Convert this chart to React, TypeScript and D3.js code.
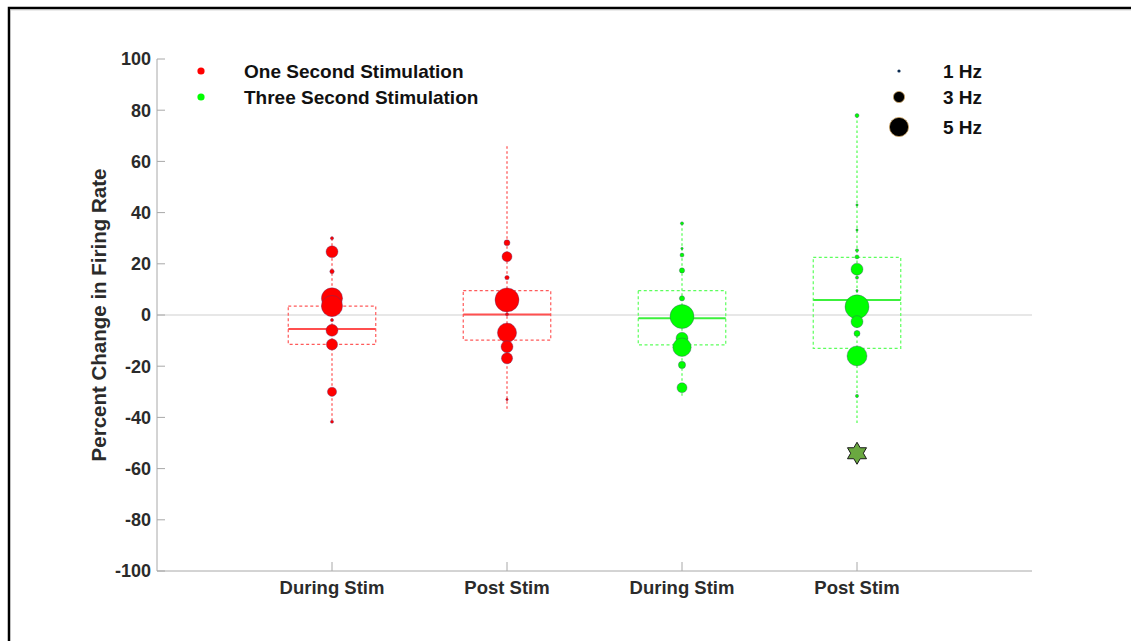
import React from "react";
import * as d3 from "d3";

// ---------- data ----------
const categories = ["During Stim", "Post Stim", "During Stim", "Post Stim"];
const groupSeries = [0, 0, 1, 1]; // index into seriesNames
const seriesNames = ["One Second Stimulation", "Three Second Stimulation"];
const yTicks = [100, 80, 60, 40, 20, 0, -20, -40, -60, -80, -100];

const boxQ1 = [-11.5, -9.8, -11.7, -13];
const boxQ3 = [3.5, 9.5, 9.5, 22.5];
const medians = [-5.5, 0.2, -1.3, 5.9];
const whiskerLow = [-41.7, -37.5, -32.5, -43];
const whiskerHigh = [30, 65.9, 35.8, 77.9];

const g1Values = [30, 24.7, 17, 6.5, 3.5, -2, -6, -11.5, -30, -41.7];
const g1Hz = [1, 3.2, 1.3, 5.5, 5.5, 1, 3.2, 3, 2.5, 1];
const g2Values = [28.2, 22.8, 14.6, 5.9, 0.3, -6.9, -12.4, -16.9, -33];
const g2Hz = [1.7, 2.7, 1.3, 6.2, 1, 5, 3.2, 3, 0.8];
const g3Values = [35.8, 26, 23.4, 17.4, 6.5, -0.6, -9.1, -12.6, -19.5, -28.4];
const g3Hz = [1, 0.8, 1.2, 1.5, 1.5, 6.2, 3.2, 4.8, 2, 2.7];
const g4Values = [77.9, 43, 33.2, 25.3, 22.7, 17.9, 14.6, 9.5, 3.2, -2.6, -7.2, -16, -31.6];
const g4Hz = [1.2, 0.6, 0.6, 1, 1.2, 3.2, 1, 0.6, 6.2, 3.2, 1.7, 5.2, 1];
const groupValues = [g1Values, g2Values, g3Values, g4Values];
const groupHz = [g1Hz, g2Hz, g3Hz, g4Hz];

const outlierGroup = 3;
const outlierValue = -54;

const sizeLegendHz = [1, 3, 5];
const sizeLegendLabels = ["1 Hz", "3 Hz", "5 Hz"];

// ---------- styles ----------
const W = 1131;
const H = 641;
const FONT = "'Liberation Sans', Arial, sans-serif";
const pointFill = ["#ff0000", "#00ff00"];
const boxStroke = ["#ff5a5a", "#5cff5c"];
const medianStroke = ["#ff4f4f", "#3cf03c"];

export default function App() {
  const x = d3.scaleLinear().domain([0, 5]).range([157, 1032]);
  const y = d3.scaleLinear().domain([-100, 100]).range([571, 59]);
  const r = d3.scaleLinear().domain([1, 5]).range([1.6, 9.6]).clamp(false);
  const halfBox = x(0.25) - x(0);

  const star = (cx: number, cy: number, R: number) => {
    const ri = R / Math.sqrt(3);
    const pts: [number, number][] = d3.range(12).map((i) => {
      const a = (Math.PI / 6) * i - Math.PI / 2;
      const rr = i % 2 === 0 ? R : ri;
      return [cx + rr * Math.cos(a), cy + rr * Math.sin(a)];
    });
    return d3.line()(pts)! + "Z";
  };

  return (
    <svg
      width={W}
      height={H}
      style={{ position: "absolute", left: 0, top: 0, background: "#fff" }}
      fontFamily={FONT}
    >
      {/* outer frame */}
      <rect x={9} y={8} width={1300} height={900} fill="none" stroke="#000" strokeWidth={2.5} />
      <line x1={10} x2={W} y1={9.8} y2={9.8} stroke="#bbb" strokeWidth={1} />

      {/* zero line */}
      <line x1={x(0)} x2={x(5)} y1={y(0)} y2={y(0)} stroke="#cfcfcf" strokeWidth={1.2} />

      {/* axes */}
      <line x1={x(0)} x2={x(0)} y1={y(100)} y2={y(-100)} stroke="#a8a8a8" strokeWidth={1} />
      <line x1={x(0)} x2={x(5)} y1={y(-100)} y2={y(-100)} stroke="#a8a8a8" strokeWidth={1} />
      {yTicks.map((t) => (
        <g key={"yt" + t}>
          <line x1={x(0)} x2={x(0) + 8} y1={y(t)} y2={y(t)} stroke="#a8a8a8" />
          <text
            x={x(0) - 6}
            y={y(t)}
            dy="0.36em"
            textAnchor="end"
            fontSize={18}
            fontWeight="bold"
            fill="#2b2b2b"
          >
            {t}
          </text>
        </g>
      ))}
      {categories.map((c, i) => (
        <g key={"xt" + i}>
          <line x1={x(i + 1)} x2={x(i + 1)} y1={y(-100)} y2={y(-100) - 9} stroke="#a8a8a8" />
          <text
            x={x(i + 1)}
            y={y(-100) + 23}
            textAnchor="middle"
            fontSize={18.5}
            fontWeight="bold"
            fill="#2b2b2b"
          >
            {c}
          </text>
        </g>
      ))}
      <text
        transform={`translate(106,${y(0)}) rotate(-90)`}
        textAnchor="middle"
        fontSize={20.5}
        fontWeight="bold"
        fill="#2b2b2b"
      >
        Percent Change in Firing Rate
      </text>

      {/* boxes */}
      {categories.map((_, i) => {
        const s = groupSeries[i];
        const cx = x(i + 1);
        return (
          <g key={"box" + i}>
            <line
              x1={cx}
              x2={cx}
              y1={y(whiskerHigh[i])}
              y2={y(whiskerLow[i])}
              stroke={boxStroke[s]}
              strokeWidth={1.3}
              strokeDasharray="2.5,2.5"
            />
            <rect
              x={cx - halfBox}
              y={y(boxQ3[i])}
              width={halfBox * 2}
              height={y(boxQ1[i]) - y(boxQ3[i])}
              fill="none"
              stroke={boxStroke[s]}
              strokeWidth={1.2}
              strokeDasharray="3,2.5"
            />
            <line
              x1={cx - halfBox}
              x2={cx + halfBox}
              y1={y(medians[i])}
              y2={y(medians[i])}
              stroke={medianStroke[s]}
              strokeWidth={2}
            />
          </g>
        );
      })}

      {/* points */}
      {groupValues.map((vals, i) => {
        const s = groupSeries[i];
        return (
          <g key={"pts" + i}>
            {vals.map((v, j) => (
              <circle
                key={j}
                cx={x(i + 1)}
                cy={y(v)}
                r={Math.max(1.2, r(groupHz[i][j]))}
                fill={pointFill[s]}
                stroke="#4a3a7a"
                strokeOpacity={0.45}
                strokeWidth={0.8}
              />
            ))}
          </g>
        );
      })}

      {/* outlier star */}
      <path
        d={star(x(outlierGroup + 1), y(outlierValue), 11)}
        fill="#6aa840"
        stroke="#1a1a1a"
        strokeWidth={1}
      />

      {/* series legend */}
      {seriesNames.map((n, i) => (
        <g key={"leg" + i}>
          <circle cx={201} cy={71 + i * 26} r={3.6} fill={pointFill[i]} />
          <text x={244} y={71 + i * 26} dy="0.36em" fontSize={19} fontWeight="bold" fill="#111">
            {n}
          </text>
        </g>
      ))}

      {/* size legend */}
      {sizeLegendHz.map((hz, i) => {
        const cy = [71, 97, 127][i];
        return (
          <g key={"sz" + i}>
            <circle
              cx={899}
              cy={cy}
              r={r(hz)}
              fill={i === 0 ? "#0a2a50" : "#000"}
              stroke={i === 0 ? "none" : "#c8a060"}
              strokeWidth={0.8}
            />
            <text x={943} y={cy} dy="0.36em" fontSize={19} fontWeight="bold" fill="#111">
              {sizeLegendLabels[i]}
            </text>
          </g>
        );
      })}
    </svg>
  );
}
